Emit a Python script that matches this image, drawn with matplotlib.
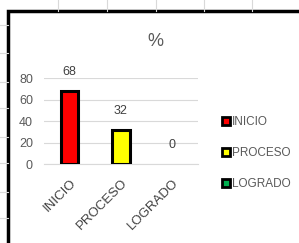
import matplotlib.pyplot as plt
from matplotlib.patches import Patch, Rectangle

plt.rcParams["font.family"] = ["Liberation Sans", "DejaVu Sans"]

categories = ["INICIO", "PROCESO", "LOGRADO"]
values = [68, 32, 0]
bar_colors = ["#FF0000", "#FFFF00", "#00B050"]
y_ticks = [0, 20, 40, 60, 80]

W, H = 299, 243
fig = plt.figure(figsize=(W / 100, H / 100), dpi=100)

# spreadsheet background behind the chart object
bg = fig.add_axes([0, 0, 1, 1])
bg.set_xlim(0, W)
bg.set_ylim(H, 0)
bg.axis("off")
for x in [58, 107, 156, 204, 252]:
    bg.plot([x, x], [0, 11], color="#D9D9D9", lw=0.8)
for y in [25, 53, 82, 108, 137, 163, 192, 218]:
    bg.plot([0, 8], [y, y], color="#D9D9D9", lw=0.8)
bg.add_patch(Rectangle((8, 11), 320, 260, facecolor="white",
                       edgecolor="black", lw=2.5))

ax = fig.add_axes([44 / W, 1 - 164 / H, 154 / W, 86 / H])
x = range(len(categories))
bars = ax.bar(x, values, width=0.34, color=bar_colors, edgecolor="black",
              linewidth=[2.2 if v > 0 else 0 for v in values], zorder=3)
for b, v in zip(bars, values):
    ax.text(b.get_x() + b.get_width() / 2, v + 12, str(v), ha="center",
            va="bottom", fontsize=9, color="#404040")

ax.set_xlim(-0.5, 2.5)
ax.set_ylim(0, 80)
ax.set_yticks(y_ticks)
ax.set_xticks(list(x))
ax.set_xticklabels(categories, rotation=45, ha="right",
                   rotation_mode="anchor", fontsize=9.5, color="#404040")
ax.tick_params(axis="y", labelsize=9, labelcolor="#595959", length=0,
               pad=8)
ax.tick_params(axis="x", length=0, pad=9)
ax.yaxis.grid(True, color="#D9D9D9", lw=0.8)
ax.set_axisbelow(True)
for s in ["top", "right", "left"]:
    ax.spines[s].set_visible(False)
ax.spines["bottom"].set_color("#D9D9D9")

fig.text(155 / W, 1 - 42 / H, "%", ha="center", va="center", fontsize=13,
         color="#595959")

handles = [Patch(facecolor=c, edgecolor="black", lw=2) for c in bar_colors]
fig.legend(handles, categories, loc="center left",
           bbox_to_anchor=(211 / W, 1 - 153 / H), frameon=False,
           fontsize=8.5, handlelength=0.7, handleheight=0.7,
           handletextpad=0.2, labelspacing=1.6, labelcolor="#595959")

fig.savefig("out.png", dpi=100)
